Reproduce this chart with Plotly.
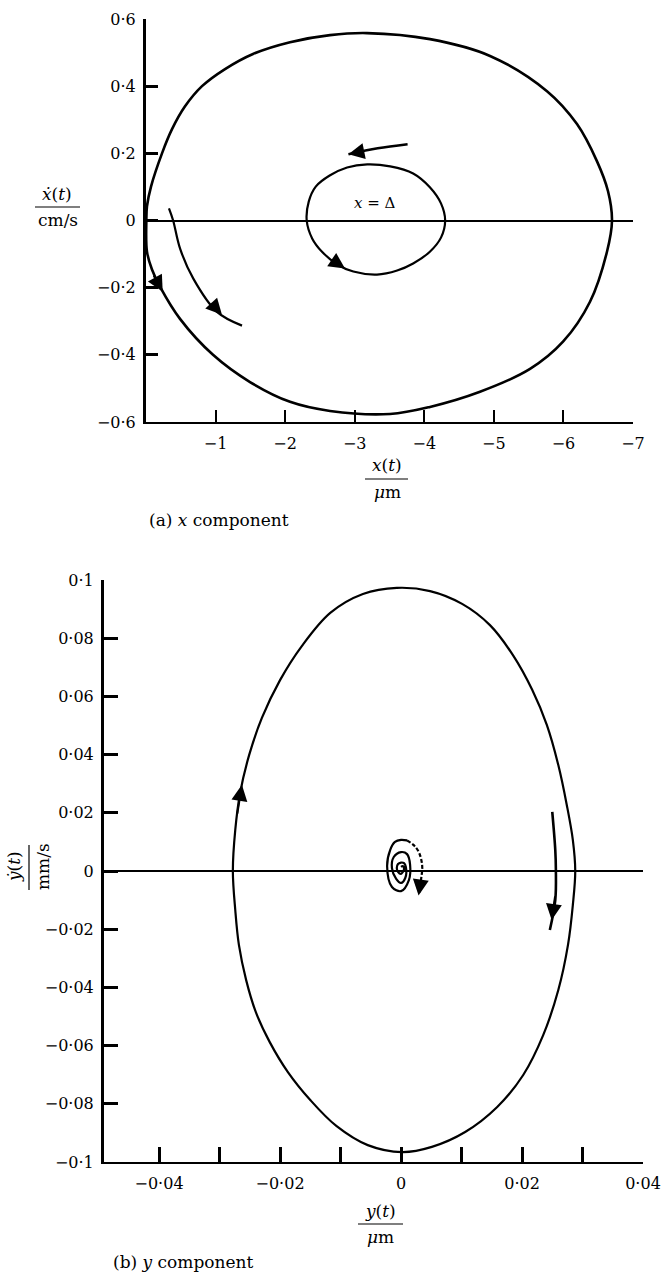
import plotly.graph_objects as go

W, H = 665, 1273
FONT = "DejaVu Serif"
BLACK = "black"

# ---------------- (a) x component: phase plane x(t) [um] vs x'(t) [cm/s]
outer_x = [-0.005, -0.014, -0.086, -0.201, -0.489, -0.963, -1.495, -2.070, -2.645,
           -3.507, -4.082, -4.801, -5.520, -5.994, -6.382, -6.626, -6.698, -6.641,
           -6.483, -6.195, -5.764, -4.945, -4.082, -3.177, -2.645, -2.070, -1.538,
           -1.136, -0.805, -0.561, -0.374, -0.230, -0.072, -0.014, -0.005]
outer_v = [0.0, -0.093, -0.146, -0.197, -0.293, -0.400, -0.481, -0.540, -0.567, -0.576,
           -0.555, -0.510, -0.442, -0.361, -0.242, -0.093, 0.0, 0.087, 0.176, 0.287,
           0.385, 0.490, 0.540, 0.558, 0.552, 0.531, 0.496, 0.451, 0.400, 0.340,
           0.272, 0.200, 0.101, 0.042, 0.0]

inner_x = [-2.31, -2.34, -2.44, -2.64, -2.89, -3.18, -3.51, -3.84, -4.08, -4.24, -4.30,
           -4.24, -4.08, -3.84, -3.61, -3.32, -2.98, -2.75, -2.53, -2.39, -2.31]
inner_v = [0.0, 0.057, 0.101, 0.134, 0.158, 0.167, 0.161, 0.140, 0.099, 0.051, 0.0,
           -0.051, -0.093, -0.128, -0.149, -0.161, -0.152, -0.131, -0.093, -0.054, 0.0]

path_x = [-0.33, -0.39, -0.49, -0.68, -1.02, -1.38]
path_v = [0.036, 0.0, -0.084, -0.173, -0.272, -0.313]

sense_x = [-3.76, -3.33, -2.91]
sense_v = [0.227, 0.215, 0.197]

# arrowheads: (tip x, tip v, tail x, tail v)
arrows_a = [
    (-0.24, -0.212, -0.10, -0.160),
    (-1.092, -0.281, -0.920, -0.242),
    (-2.91, 0.197, -3.10, 0.205),
    (-2.86, -0.143, -2.645, -0.113),
]

x_ticks_a = [-1, -2, -3, -4, -5, -6, -7]
x_text_a = ["−1", "−2", "−3", "−4", "−5", "−6", "−7"]
v_ticks_a = [-0.6, -0.4, -0.2, 0.0, 0.2, 0.4, 0.6]
v_text_a = ["−0·6", "−0·4", "−0·2", "0", "0·2", "0·4", "0·6"]

# ---------------- (b) y component: phase plane y(t) [um] vs y'(t) [mm/s]
cycle_y = [-0.0278, -0.0274, -0.0266, -0.0251, -0.0230, -0.0200, -0.0164, -0.0117,
           -0.0063, -0.0007, 0.0048, 0.0101, 0.0147, 0.0185, 0.0217, 0.0241, 0.0260,
           0.0274, 0.0284, 0.0288, 0.0284, 0.0276, 0.0260, 0.0235, 0.0202, 0.0159,
           0.0106, 0.0051, 0.0002, -0.0055, -0.0107, -0.0150, -0.0187, -0.0217,
           -0.0240, -0.0256, -0.0268, -0.0274, -0.0278]
cycle_v = [0.0, 0.0141, 0.0268, 0.0399, 0.0526, 0.0656, 0.0773, 0.0887, 0.0952, 0.0973,
           0.0962, 0.0918, 0.0845, 0.0742, 0.0622, 0.0502, 0.0364, 0.0227, 0.0107, 0.0,
           -0.0117, -0.0254, -0.0409, -0.0564, -0.0701, -0.0811, -0.0897, -0.0948,
           -0.0966, -0.0942, -0.0876, -0.0787, -0.0691, -0.0588, -0.0485, -0.0375,
           -0.0254, -0.0134, 0.0]

spiral_y = [0.0, 0.0003, 0.0005, 0.0003, 0.0, -0.0005, -0.0007, -0.0005, 0.0, 0.0005,
            0.0008, 0.0007, 0.0, -0.0008, -0.0015, -0.0012, 0.0, 0.0010, 0.0015, 0.0013,
            0.0, -0.0015, -0.0023, -0.0018, -0.0010, 0.0, 0.0010]
spiral_v = [0.0014, 0.0017, 0.0007, -0.0003, -0.0010, -0.0003, 0.0010, 0.0024, 0.0029,
            0.0027, 0.0014, -0.0024, -0.0041, -0.0027, 0.0010, 0.0048, 0.0065, 0.0058,
            0.0021, -0.0031, -0.0069, -0.0055, 0.0017, 0.0072, 0.0100, 0.0107, 0.0105]
spiral_tail_y = [0.0010, 0.0021, 0.0030, 0.0035, 0.0033, 0.0030]
spiral_tail_v = [0.0105, 0.0089, 0.0062, 0.0017, -0.0031, -0.0076]

drop_y = [0.0250, 0.0255, 0.0256, 0.0255, 0.0246]
drop_v = [0.0203, 0.0072, 0.0003, -0.0100, -0.0203]

arrows_b = [
    (-0.0263, 0.0296, -0.0271, 0.0192),
    (0.0249, -0.0168, 0.0255, -0.0082),
    (0.0029, -0.0084, 0.0032, -0.0040),
]

y_ticks_b = [-0.04, -0.03, -0.02, -0.01, 0.0, 0.01, 0.02, 0.03, 0.04]
y_text_b = ["−0·04", "", "−0·02", "", "0", "", "0·02", "", "0·04"]
v_ticks_b = [-0.1, -0.08, -0.06, -0.04, -0.02, 0.0, 0.02, 0.04, 0.06, 0.08, 0.1]
v_text_b = ["−0·1", "−0·08", "−0·06", "−0·04", "−0·02", "0", "0·02", "0·04", "0·06",
            "0·08", "0·1"]


def px(x):
    return x / W


def py(y):
    return 1 - y / H


fig = go.Figure()

line = dict(color=BLACK, width=2.2, shape="spline", smoothing=1.0)

fig.add_trace(go.Scatter(x=outer_x, y=outer_v, mode="lines", line=dict(line, width=2.6),
                         xaxis="x", yaxis="y"))
fig.add_trace(go.Scatter(x=inner_x, y=inner_v, mode="lines", line=line,
                         xaxis="x", yaxis="y"))
fig.add_trace(go.Scatter(x=path_x, y=path_v, mode="lines", line=line,
                         xaxis="x", yaxis="y"))
fig.add_trace(go.Scatter(x=sense_x, y=sense_v, mode="lines", line=dict(line, width=2.6),
                         xaxis="x", yaxis="y"))

fig.add_trace(go.Scatter(x=cycle_y, y=cycle_v, mode="lines", line=line,
                         xaxis="x2", yaxis="y2"))
fig.add_trace(go.Scatter(x=spiral_y, y=spiral_v, mode="lines", line=dict(line, width=2.2),
                         xaxis="x2", yaxis="y2"))
fig.add_trace(go.Scatter(x=spiral_tail_y, y=spiral_tail_v, mode="lines",
                         line=dict(line, width=2.2, dash="4px,2px"),
                         xaxis="x2", yaxis="y2"))
fig.add_trace(go.Scatter(x=drop_y, y=drop_v, mode="lines", line=dict(line, width=2.6),
                         xaxis="x2", yaxis="y2"))

annotations = []
for (x, y, ax, ay) in arrows_a:
    annotations.append(dict(x=x, y=y, ax=ax, ay=ay, xref="x", yref="y", axref="x",
                            ayref="y", text="", showarrow=True, arrowhead=2,
                            arrowsize=1.6, arrowwidth=2, arrowcolor=BLACK))
for (x, y, ax, ay) in arrows_b:
    annotations.append(dict(x=x, y=y, ax=ax, ay=ay, xref="x2", yref="y2", axref="x2",
                            ayref="y2", text="", showarrow=True, arrowhead=2,
                            arrowsize=1.6, arrowwidth=2, arrowcolor=BLACK))


def label(text, x, y, size=16, angle=0):
    annotations.append(dict(text=text, x=px(x), y=py(y), xref="paper", yref="paper",
                            showarrow=False, xanchor="center", yanchor="middle",
                            textangle=angle,
                            font=dict(family=FONT, size=size, color=BLACK)))


label("<i>x</i> = Δ", 375, 203, 15)

# axis titles written as stacked fractions
label("<i>ẋ</i>(<i>t</i>)", 57, 194, 17)
label("cm/s", 58, 220, 17)
label("<i>x</i>(<i>t</i>)", 387, 465, 17)
label("<i>μ</i>m", 387, 492, 17)
label("(a) <i>x</i> component", 219, 520, 17)

label("<i>ẏ</i>(<i>t</i>)", 14, 867, 17, -90)
label("mm/s", 43, 867, 17, -90)
label("<i>y</i>(<i>t</i>)", 381, 1211, 17)
label("<i>μ</i>m", 380, 1237, 17)
label("(b) <i>y</i> component", 183, 1262, 17)

shapes = [
    dict(type="line", xref="paper", yref="paper", x0=px(35), x1=px(80), y0=py(207),
         y1=py(207), line=dict(color=BLACK, width=1.2)),
    dict(type="line", xref="paper", yref="paper", x0=px(365), x1=px(408), y0=py(479),
         y1=py(479), line=dict(color=BLACK, width=1.2)),
    dict(type="line", xref="paper", yref="paper", x0=px(29), x1=px(29), y0=py(845),
         y1=py(890), line=dict(color=BLACK, width=1.2)),
    dict(type="line", xref="paper", yref="paper", x0=px(358), x1=px(403), y0=py(1224),
         y1=py(1224), line=dict(color=BLACK, width=1.2)),
]

tickfont = dict(family=FONT, size=16, color=BLACK)
axis_common = dict(showgrid=False, showline=True, linecolor=BLACK, ticks="inside",
                   tickcolor=BLACK, tickfont=tickfont, fixedrange=True,
                   automargin=False)

fig.update_layout(
    width=W, height=H,
    margin=dict(l=0, r=0, t=0, b=0, autoexpand=False),
    paper_bgcolor="white", plot_bgcolor="white",
    showlegend=False,
    xaxis=dict(axis_common, domain=[px(146), px(633)], anchor="y", range=[0, -7],
               tickvals=x_ticks_a, ticktext=x_text_a, ticklen=12, tickwidth=2,
               linewidth=2, zeroline=False, ticklabelstandoff=6),
    yaxis=dict(axis_common, domain=[py(422), py(19)], anchor="x", range=[-0.6, 0.6],
               tickvals=v_ticks_a, ticktext=v_text_a, ticklen=12, tickwidth=2.5,
               linewidth=3, zeroline=True, zerolinecolor=BLACK, zerolinewidth=1.8,
               ticklabelstandoff=4),
    xaxis2=dict(axis_common, domain=[px(104), px(643)], anchor="y2",
                range=[-0.0491, 0.04], tickvals=y_ticks_b, ticktext=y_text_b,
                ticklen=15, tickwidth=2.5, linewidth=2, zeroline=False,
                ticklabelstandoff=6),
    yaxis2=dict(axis_common, domain=[py(1162), py(580)], anchor="x2",
                range=[-0.1, 0.1], tickvals=v_ticks_b, ticktext=v_text_b,
                ticklen=14, tickwidth=2.5, linewidth=3, zeroline=True,
                zerolinecolor=BLACK, zerolinewidth=2.2, ticklabelstandoff=4),
    annotations=annotations,
    shapes=shapes,
)

fig.write_html("out.html")
